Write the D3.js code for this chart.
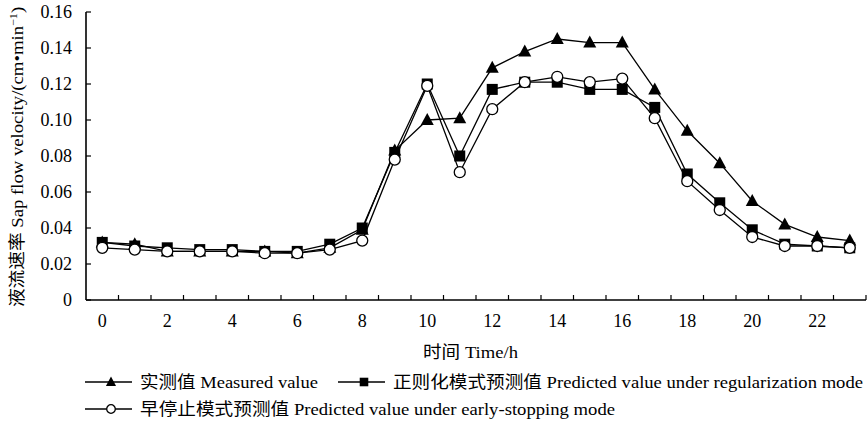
<!DOCTYPE html>
<meta charset="utf-8">
<head>
    <title>Sap flow velocity</title>
    <script src="https://d3js.org/d3.v7.min.js"></script>
    <style>
        body { margin: 0; background: #fff; }
    </style>
</head>
<body>
<script>
    // hours 0..23
    var hours = d3.range(0, 24);
    var xTickLabels = [0, 2, 4, 6, 8, 10, 12, 14, 16, 18, 20, 22];
    var yTicks = [0, 0.02, 0.04, 0.06, 0.08, 0.10, 0.12, 0.14, 0.16];

    // measured (triangle)
    var measured = [0.032, 0.031, 0.027, 0.027, 0.027, 0.027, 0.026, 0.029, 0.039, 0.083,
        0.100, 0.101, 0.129, 0.138, 0.145, 0.143, 0.143, 0.117, 0.094, 0.076,
        0.055, 0.042, 0.035, 0.033];
    // regularization mode (filled square)
    var regular = [0.032, 0.030, 0.029, 0.028, 0.028, 0.027, 0.027, 0.031, 0.040, 0.082,
        0.120, 0.080, 0.117, 0.121, 0.121, 0.117, 0.117, 0.107, 0.070, 0.054,
        0.039, 0.031, 0.030, 0.029];
    // early-stopping mode (open circle)
    var early = [0.029, 0.028, 0.027, 0.027, 0.027, 0.026, 0.026, 0.028, 0.033, 0.078,
        0.119, 0.071, 0.106, 0.121, 0.124, 0.121, 0.123, 0.101, 0.066, 0.050,
        0.035, 0.030, 0.030, 0.029];

    var width = 868, height = 427;
    var margin = {left: 86, right: 2, top: 12, bottom: 127};
    var FONT = "'Liberation Serif', 'Times New Roman', 'Noto Sans CJK SC', serif";

    var svg = d3.select("body").append("svg")
        .attr("width", width)
        .attr("height", height)
        .attr("font-family", FONT);

    var x = d3.scaleBand()
        .domain(hours)
        .range([margin.left, width - margin.right]);

    var y = d3.scaleLinear()
        .domain([0, 0.16])
        .range([height - margin.bottom, margin.top]);

    // x axis: ticks between bands, pointing inward
    var xAxis = svg.append("g")
        .attr("transform", "translate(0," + y(0) + ")");
    xAxis.append("line")
        .attr("x1", margin.left).attr("x2", width - margin.right)
        .attr("stroke", "#000").attr("stroke-width", 1.6);
    xAxis.selectAll(".tk")
        .data(d3.range(1, 25))
        .enter().append("line")
        .attr("x1", function (d) { return x.range()[0] + d * x.bandwidth(); })
        .attr("x2", function (d) { return x.range()[0] + d * x.bandwidth(); })
        .attr("y1", 0).attr("y2", -5)
        .attr("stroke", "#000").attr("stroke-width", 1.2);
    xAxis.selectAll(".lab")
        .data(xTickLabels)
        .enter().append("text")
        .attr("x", function (d) { return x(d) + x.bandwidth() / 2; })
        .attr("y", 27)
        .attr("text-anchor", "middle")
        .attr("font-size", 18)
        .text(function (d) { return d; });

    // y axis
    var yAxis = svg.append("g")
        .attr("transform", "translate(" + margin.left + ",0)");
    yAxis.append("line")
        .attr("y1", y(0)).attr("y2", y(0.16))
        .attr("stroke", "#000").attr("stroke-width", 1.6);
    yAxis.selectAll(".tk")
        .data(yTicks)
        .enter().append("line")
        .attr("x1", 0).attr("x2", 5)
        .attr("y1", function (d) { return y(d); })
        .attr("y2", function (d) { return y(d); })
        .attr("stroke", "#000").attr("stroke-width", 1.2);
    yAxis.selectAll(".lab")
        .data(yTicks)
        .enter().append("text")
        .attr("x", -14)
        .attr("y", function (d) { return y(d); })
        .attr("dy", "0.35em")
        .attr("text-anchor", "end")
        .attr("font-size", 18)
        .text(function (d) { return d === 0 ? "0" : d3.format(".2f")(d); });

    // axis titles (glyphs in the original are a bit wider than Liberation Serif)
    svg.append("text")
        .attr("transform", "translate(23,157) rotate(-90) scale(1.1,1)")
        .attr("text-anchor", "middle")
        .attr("font-size", 17)
        .html("液流速率 Sap flow velocity/(cm•min<tspan dy='-6' font-size='11'>−1</tspan><tspan dy='6'>)</tspan>");

    svg.append("text")
        .attr("x", 423).attr("y", 358)
        .attr("textLength", 95)
        .attr("lengthAdjust", "spacingAndGlyphs")
        .attr("font-size", 17)
        .text("时间 Time/h");

    var series = [
        {name: "实测值 Measured value", values: measured, shape: "triangle"},
        {name: "正则化模式预测值 Predicted value under regularization mode", values: regular, shape: "square"},
        {name: "早停止模式预测值 Predicted value under early-stopping mode", values: early, shape: "circle"}
    ];

    function drawMarker(g, shape, k) {
        if (shape === "triangle") {
            g.append("path")
                .attr("d", "M0," + (-7 * k) + "L" + (6.5 * k) + "," + (5 * k) + "L" + (-6.5 * k) + "," + (5 * k) + "Z")
                .attr("fill", "#000");
        } else if (shape === "square") {
            g.append("rect").attr("x", -5.5 * k).attr("y", -5.5 * k)
                .attr("width", 11 * k).attr("height", 11 * k)
                .attr("fill", "#000");
        } else {
            g.append("circle").attr("r", 5.5 * k).attr("fill", "#fff")
                .attr("stroke", "#000").attr("stroke-width", 1.3);
        }
    }

    var line = d3.line()
        .x(function (d, i) { return x(hours[i]) + x.bandwidth() / 2; })
        .y(function (d) { return y(d); });

    // draw lines first, then markers (circles on top)
    series.forEach(function (s) {
        svg.append("path")
            .datum(s.values)
            .attr("fill", "none")
            .attr("stroke", "#000")
            .attr("stroke-width", 1.3)
            .attr("d", line);
    });
    series.forEach(function (s) {
        svg.append("g").selectAll("g")
            .data(s.values)
            .enter().append("g")
            .attr("transform", function (d, i) {
                return "translate(" + (x(hours[i]) + x.bandwidth() / 2) + "," + y(d) + ")";
            })
            .each(function () { drawMarker(d3.select(this), s.shape, 1); });
    });

    // legend
    var legendPos = [[85, 382], [338, 382], [85, 409]];
    var legendLen = [178, 470, 475];
    series.forEach(function (s, i) {
        var lg = svg.append("g")
            .attr("transform", "translate(" + legendPos[i][0] + "," + legendPos[i][1] + ")");
        lg.append("line").attr("x1", 0).attr("x2", 47)
            .attr("stroke", "#000").attr("stroke-width", 1.3);
        var m = lg.append("g").attr("transform", "translate(26,0)");
        drawMarker(m, s.shape, 0.78);
        lg.append("text").attr("x", 55).attr("dy", "0.35em")
            .attr("textLength", legendLen[i])
            .attr("lengthAdjust", "spacingAndGlyphs")
            .attr("font-size", 17)
            .text(s.name);
    });
</script>
</body>
